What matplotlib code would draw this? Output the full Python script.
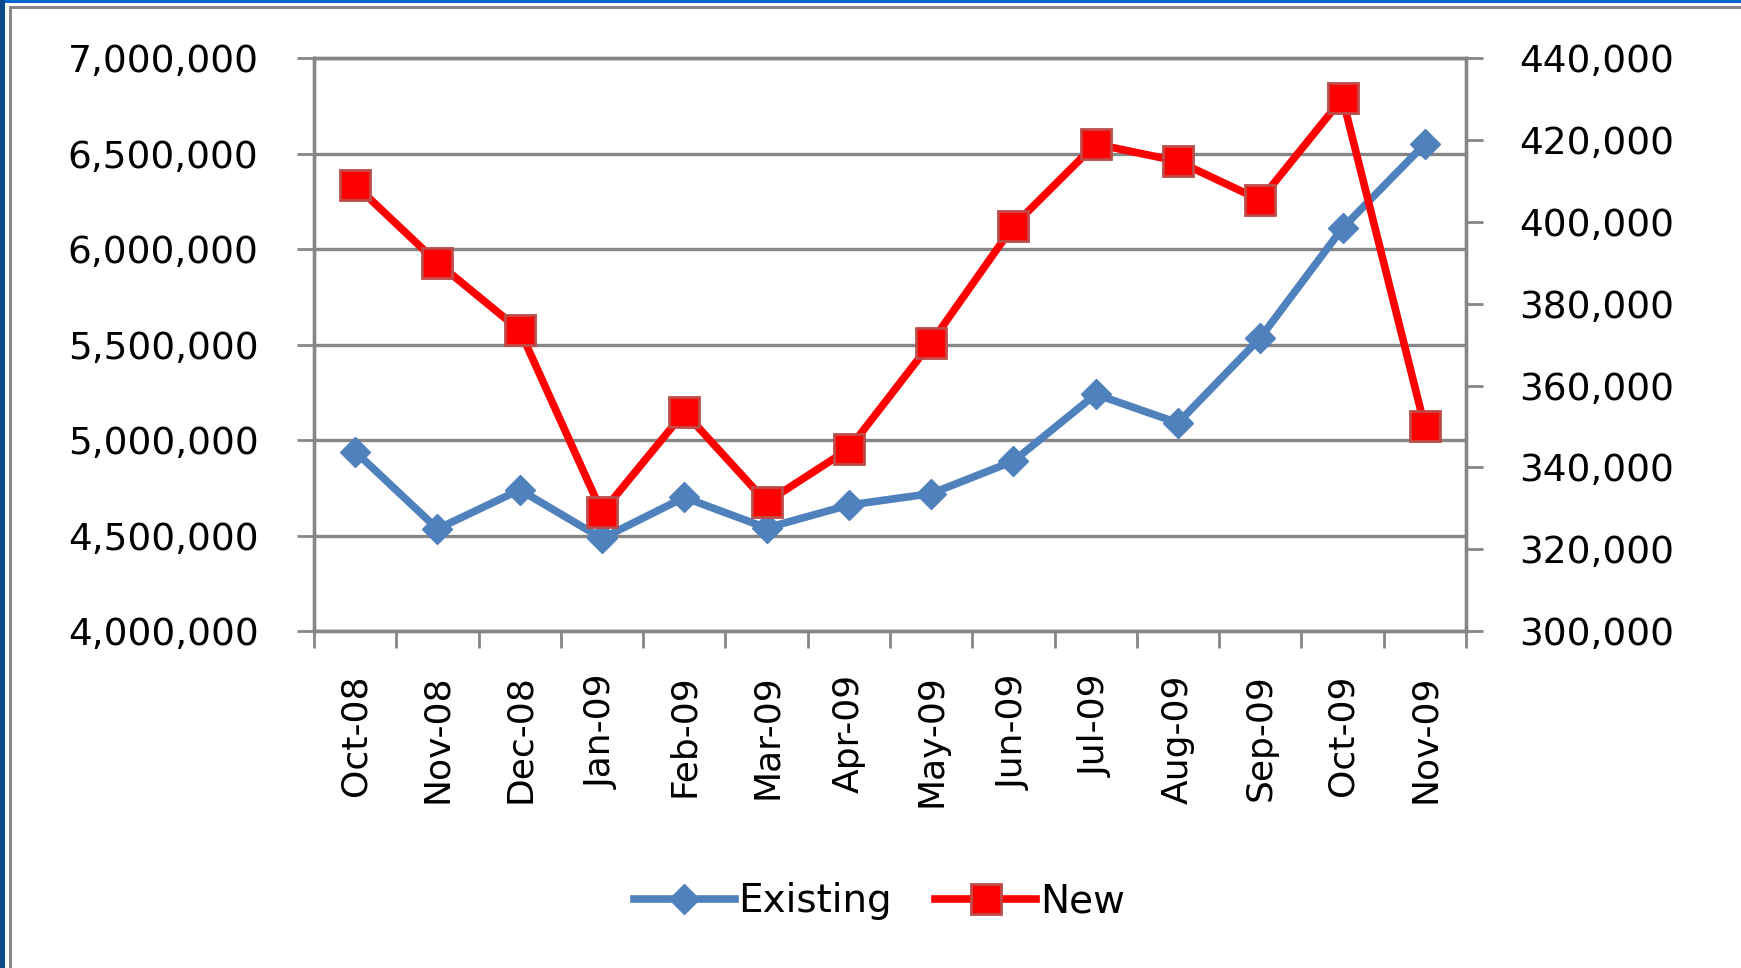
import numpy as np
import matplotlib
matplotlib.use("Agg")
import matplotlib.pyplot as plt
from matplotlib.patches import Rectangle

# months on the x axis
months = ['Oct-08', 'Nov-08', 'Dec-08', 'Jan-09', 'Feb-09', 'Mar-09', 'Apr-09',
          'May-09', 'Jun-09', 'Jul-09', 'Aug-09', 'Sep-09', 'Oct-09', 'Nov-09']

# existing home sales (left axis)
existing = [4940000, 4535000, 4740000, 4485000, 4700000, 4540000, 4660000,
            4720000, 4890000, 5240000, 5090000, 5535000, 6110000, 6550000]

# new home sales (right axis)
new = [409000, 390000, 373500, 329000, 353500, 331500, 344500,
       370500, 399000, 419000, 414800, 405300, 430200, 350000]

left_ticks = np.arange(4000000, 7000001, 500000)
right_ticks = np.arange(300000, 440001, 20000)

grey = '#868686'
blue = '#4F81BD'
red = '#FF0000'

plt.rcParams['font.family'] = ['DejaVu Sans']
plt.rcParams['font.size'] = 27

fig = plt.figure(figsize=(17.41, 9.68), dpi=100)
ax = fig.add_axes([0.1804, 0.348, 0.6616, 0.592])
ax2 = ax.twinx()

x = np.arange(len(months))
l1, = ax.plot(x, existing, color=blue, lw=5.5, marker='D', ms=15,
              mfc=blue, mec=blue, label='Existing')
l2, = ax2.plot(x, new, color=red, lw=5.5, marker='s', ms=22,
               mfc=red, mec='#BE4B48', mew=2, label='New')

ax.set_xlim(-0.5, len(months) - 0.5)
ax.set_ylim(left_ticks[0], left_ticks[-1])
ax2.set_ylim(right_ticks[0], right_ticks[-1])

ax.set_yticks(left_ticks)
ax.set_yticklabels([f'{v:,}' for v in left_ticks])
ax2.set_yticks(right_ticks)
ax2.set_yticklabels([f'{v:,}' for v in right_ticks])

ax.set_xticks(x)
ax.set_xticklabels(months, rotation=90, va='top', ha='center', fontsize=26)
ax.set_xticks(np.arange(-0.5, len(months), 1), minor=True)
ax.tick_params(axis='x', which='major', length=0, pad=31)
ax.tick_params(axis='x', which='minor', length=12, width=2, color=grey)
ax.tick_params(axis='y', length=12, width=2, color=grey, pad=28)
ax2.tick_params(axis='y', length=12, width=2, color=grey, pad=26)

ax.grid(axis='y', color=grey, lw=2.4)
ax.set_axisbelow(True)

for a in (ax, ax2):
    for s in a.spines.values():
        s.set_color(grey)
        s.set_linewidth(2.4)

leg = fig.legend([l1, l2], ['Existing', 'New'], loc='center',
                 bbox_to_anchor=(0.505, 0.069), ncol=2, frameon=False,
                 handlelength=2.6, handletextpad=0.1, columnspacing=1.1,
                 fontsize=28)

# window frame of the screenshot
fig.add_artist(Rectangle((0, 1 - 3 / 968), 1, 3 / 968, transform=fig.transFigure,
                         color='#0066CC', lw=0))
fig.add_artist(Rectangle((0, 0), 5 / 1741, 1, transform=fig.transFigure,
                         color='#0A4A8C', lw=0))
fig.add_artist(Rectangle((9 / 1741, 1 - 9 / 968), 1, 3 / 968, transform=fig.transFigure,
                         color=grey, lw=0))
fig.add_artist(Rectangle((9 / 1741, 0), 3 / 1741, 1 - 6 / 968, transform=fig.transFigure,
                         color=grey, lw=0))

fig.savefig('out.png', dpi=100)
